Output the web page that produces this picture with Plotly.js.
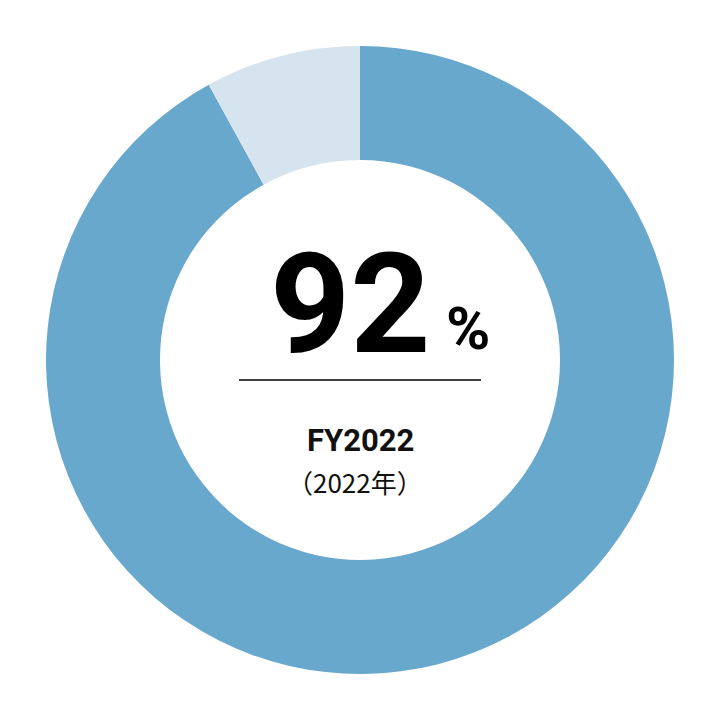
<!DOCTYPE html>
<html>
<head>
<meta charset="utf-8">
<script src="https://cdn.plot.ly/plotly-3.0.1.min.js"></script>
<style>
  html, body { margin: 0; padding: 0; background: #fff; }
  #chart { width: 720px; height: 720px; }
</style>
</head>
<body>
<div id="chart"></div>
<script>
  // donut: share for FY2022
  const labels = ['Achieved', 'Remaining'];
  const values = [92, 8];
  const colors = ['#69a8cd', '#d6e4ef'];
  const bigValue = '92';
  const fyLabel = 'FY2022';
  const yearLabel = '（2022年）';

  const W = 720;
  const px = v => v / W;          // pixel -> paper x
  const py = v => 1 - v / W;      // pixel -> paper y

  const trace = {
    type: 'pie',
    labels: labels,
    values: values,
    marker: { colors: colors, line: { width: 0 } },
    hole: 0.637,
    sort: false,
    direction: 'clockwise',
    rotation: 0,
    textinfo: 'none',
    hoverinfo: 'none',
    domain: { x: [px(46), px(674)], y: [py(674), py(46)] }
  };

  const layout = {
    width: 720, height: 720,
    margin: { l: 0, r: 0, t: 0, b: 0 },
    paper_bgcolor: '#fff',
    showlegend: false,
    shapes: [{
      type: 'line', xref: 'paper', yref: 'paper',
      x0: px(239), x1: px(481), y0: py(380), y1: py(380),
      line: { color: '#000', width: 1.5 }
    }],
    annotations: [
      { text: '<b>' + bigValue + '</b>', x: px(350), y: py(304), xref: 'paper', yref: 'paper',
        showarrow: false, xanchor: 'center', yanchor: 'middle',
        font: { family: 'Roboto', size: 140, color: '#000' } },
      { text: '<b>%</b>', x: px(468), y: py(329), xref: 'paper', yref: 'paper',
        showarrow: false, xanchor: 'center', yanchor: 'middle',
        font: { family: 'Roboto', size: 60, color: '#000' } },
      { text: '<b>' + fyLabel + '</b>', x: px(360), y: py(440), xref: 'paper', yref: 'paper',
        showarrow: false, xanchor: 'center', yanchor: 'middle',
        font: { family: 'Roboto', size: 31, color: '#111' } },
      { text: yearLabel, x: px(355), y: py(482), xref: 'paper', yref: 'paper',
        showarrow: false, xanchor: 'center', yanchor: 'middle',
        font: { family: 'Noto Sans CJK JP', size: 26, color: '#111' } }
    ]
  };

  Plotly.newPlot('chart', [trace], layout, { displayModeBar: false, staticPlot: true });
</script>
</body>
</html>
